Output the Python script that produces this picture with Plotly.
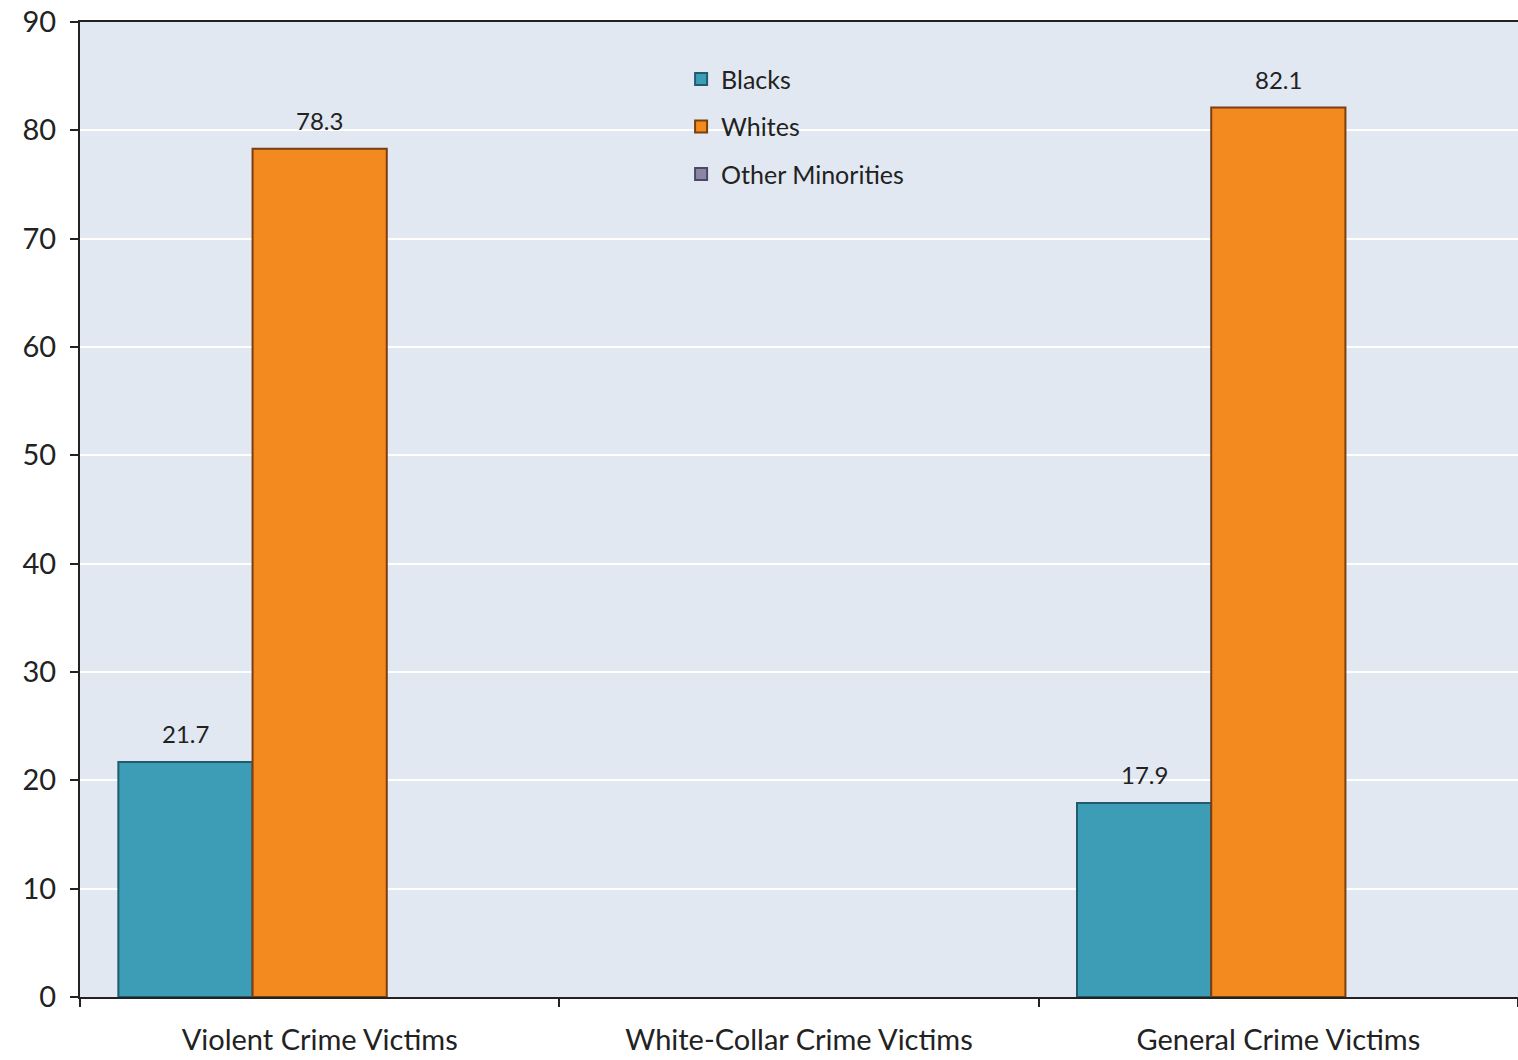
import plotly.graph_objects as go

categories = ["Violent Crime Victims", "White-Collar Crime Victims", "General Crime Victims"]
blacks = [21.7, None, 17.9]
whites = [78.3, None, 82.1]
other_minorities = [None, None, None]
y_ticks = [0, 10, 20, 30, 40, 50, 60, 70, 80, 90]

FONT = "Lato, 'Open Sans', sans-serif"

W, H = 1518, 1060
ML, MR, MT, MB = 80, 0, 22, 63
BARGAP = 0.16
N_SERIES = 3

fig = go.Figure()
series = [
    ("Blacks", blacks, "#3e9db6", "#1f5d6e"),
    ("Whites", whites, "#f28a1f", "#7a3e10"),
    ("Other Minorities", other_minorities, "#8c86a6", "#4c4766"),
]
cat_px = (W - ML - MR) / len(categories)
bar_px = cat_px * (1 - BARGAP) / N_SERIES
for i, (name, vals, col, edge) in enumerate(series):
    fig.add_trace(go.Bar(
        name=name, x=categories, y=vals,
        marker=dict(color=col, line=dict(color=edge, width=2)),
        legendgroup=name,
    ))
    offset = (i - (N_SERIES - 1) / 2) * bar_px
    for c, v in zip(categories, vals):
        if v is None:
            continue
        fig.add_annotation(
            x=c, y=v, text="%.1f" % v, showarrow=False,
            xanchor="center", yanchor="bottom", xshift=offset, yshift=12,
            font=dict(size=24, color="#222222", family=FONT),
        )

fig.update_layout(
    width=W, height=H,
    margin=dict(l=ML, r=MR, t=MT, b=MB),
    paper_bgcolor="white",
    plot_bgcolor="#e1e8f1",
    barmode="group",
    bargap=BARGAP,
    bargroupgap=0,
    font=dict(family=FONT, color="#222222"),
    legend=dict(
        x=0.418, y=0.965, xanchor="left", yanchor="top",
        bgcolor="rgba(0,0,0,0)",
        font=dict(size=25, color="#222222", family=FONT),
        tracegroupgap=12,
        itemwidth=30,
    ),
    showlegend=True,
)
fig.update_xaxes(
    showline=True, linecolor="#222222", linewidth=2, mirror=True,
    ticks="outside", tickson="boundaries", ticklen=8, tickcolor="#222222", tickwidth=2,
    tickfont=dict(size=29, color="#222222", family=FONT),
    ticklabelstandoff=16, ticklabeloverflow="allow",
    showgrid=False,
)
fig.update_yaxes(
    range=[0, 90], tickvals=y_ticks,
    showline=True, linecolor="#222222", linewidth=2,
    ticks="outside", ticklen=8, tickcolor="#222222", tickwidth=2,
    tickfont=dict(size=29, color="#222222", family=FONT),
    ticklabelstandoff=8, ticklabeloverflow="allow",
    showgrid=True, gridcolor="white", gridwidth=2,
    zeroline=False,
)

fig.write_html(
    "out.html",
    config={"displayModeBar": False},
    post_script="document.body.style.margin='0';document.body.style.overflow='hidden';",
)
